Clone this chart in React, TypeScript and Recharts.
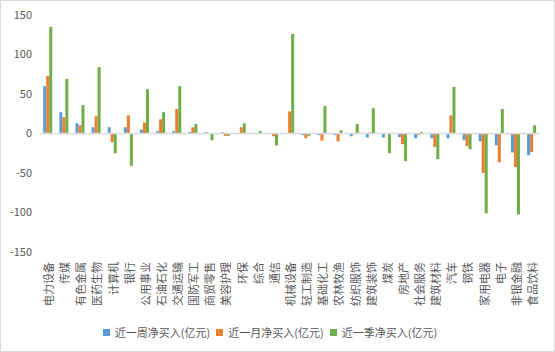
import React from 'react';
import { BarChart, Bar, XAxis, YAxis, Legend, ReferenceLine } from 'recharts';

const categories = ['电力设备','传媒','有色金属','医药生物','计算机','银行','公用事业','石油石化','交通运输','国防军工','商贸零售','美容护理','环保','综合','通信','机械设备','轻工制造','基础化工','农林牧渔','纺织服饰','建筑装饰','煤炭','房地产','社会服务','建筑材料','汽车','钢铁','家用电器','电子','非银金融','食品饮料'];
const weekValues = [60,27,13,8,8,8,5,3,3,2,1.5,1.5,0,0,0,0,-2,-2,-2,-3.5,-5,-5,-4.5,-6,-6,-6,-8.5,-10,-15,-24,-27.5];
const monthValues = [73,20.5,10.5,22,-11,23,14,18,31,8,0,-3,8,0,-3.5,28,-6,-9,-10,0,1.5,0,-13.5,-2,-17,23,-16,-50,-36.5,-42.5,-23.5];
const quarterValues = [135,69,36,84,-25,-41,56,27,60,12,-8.5,-3,13,3,-15,126,-3,35,4,12,32,-25,-35,2,-32.5,59,-20,-101,31,-102.5,10.5];
const yTicks = [-150,-100,-50,0,50,100,150];
const seriesNames = ['近一周净买入(亿元)','近一月净买入(亿元)','近一季净买入(亿元)'];
const seriesColors = ['#5b9bd5','#ed7d31','#70ad47'];

const data = categories.map((c, i) => ({ name: c, week: weekValues[i], month: monthValues[i], quarter: quarterValues[i] }));

const FONT = '"Noto Sans CJK SC", "Noto Sans", sans-serif';

const XTick = (props: any) => {
  const { x, payload } = props;
  const y = 262;
  return (
    <text x={x} y={y} transform={`rotate(-90, ${x}, ${y})`} textAnchor="end" dominantBaseline="central" fontSize={11} fill="#595959" fontFamily={FONT}>
      {payload.value}
    </text>
  );
};

const LegendContent = () => (
  <div style={{ display: 'flex', justifyContent: 'center', alignItems: 'center', fontSize: 11, fontFamily: FONT, color: '#595959', height: 20 }}>
    {seriesNames.map((n, i) => (
      <div key={n} style={{ display: 'flex', alignItems: 'center', marginRight: i < 2 ? 6 : 0 }}>
        <span style={{ display: 'inline-block', width: 7, height: 7, background: seriesColors[i], marginRight: 5 }} />
        <span>{n}</span>
      </div>
    ))}
  </div>
);

export default function App() {
  return (
    <div style={{ position: 'absolute', left: 0, top: 0, width: 555, height: 352, background: '#fff' }}>
      <BarChart width={555} height={352} data={data} margin={{ top: 15, right: 15, left: 0, bottom: 10 }} barCategoryGap="20%" barGap={0}>
        <XAxis dataKey="name" axisLine={false} tickLine={false} interval={0} height={70} tick={<XTick />} />
        <YAxis domain={[-150, 150]} ticks={yTicks} axisLine={false} tickLine={false} width={40} tick={{ fontSize: 11, fill: '#595959', fontFamily: FONT }} />
        <ReferenceLine y={0} stroke="#d9d9d9" strokeWidth={1.5} />
        <Bar dataKey="week" name={seriesNames[0]} fill={seriesColors[0]} isAnimationActive={false} />
        <Bar dataKey="month" name={seriesNames[1]} fill={seriesColors[1]} isAnimationActive={false} />
        <Bar dataKey="quarter" name={seriesNames[2]} fill={seriesColors[2]} isAnimationActive={false} />
        <Legend verticalAlign="bottom" height={20} content={<LegendContent />} />
      </BarChart>
      <div style={{ position: 'absolute', left: 0, top: 0, width: 555, height: 352, boxSizing: 'border-box', border: '1px solid #d9d9d9', pointerEvents: 'none' }} />
    </div>
  );
}
